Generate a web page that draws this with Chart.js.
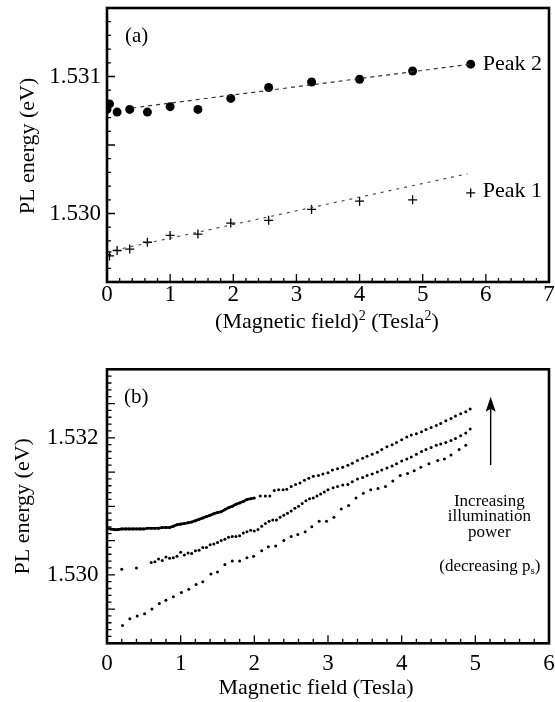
<!DOCTYPE html>
<html><head><meta charset="utf-8">
<script src="https://cdn.jsdelivr.net/npm/chart.js@4.4.0/dist/chart.umd.min.js"></script>
<style>
html,body{margin:0;padding:0;background:#fff;}
#wrap{position:relative;width:555px;height:702px;overflow:hidden;background:#fff;}
canvas{position:absolute;left:0;}
</style></head><body>
<div id="wrap">
<canvas id="ca" width="555" height="340" style="top:0px"></canvas>
<canvas id="cb" width="555" height="362" style="top:340px"></canvas>
</div>
<script>
// ---------- Panel (a) data ----------
const peak2Field2 = [0, 0.04, 0.16, 0.36, 0.64, 1.0, 1.44, 1.96, 2.56, 3.24, 4.0, 4.84, 5.76];
const peak2Energy = [1.53076, 1.53080, 1.53074, 1.53076, 1.53074, 1.53078, 1.53076, 1.53084, 1.53092, 1.53096, 1.53098, 1.53104, 1.53109];
const peak1Field2 = [0, 0.04, 0.16, 0.36, 0.64, 1.0, 1.44, 1.96, 2.56, 3.24, 4.0, 4.84, 5.76];
const peak1Energy = [1.52972, 1.52969, 1.52973, 1.52974, 1.52979, 1.52984, 1.52985, 1.52993, 1.52995, 1.53003, 1.53009, 1.53010, 1.53015];
const peak2FitField2 = [0.4, 5.76];
const peak2FitEnergy = [1.53077, 1.53109];
const peak1FitField2 = [0, 5.71];
const peak1FitEnergy = [1.52972, 1.53029];
const xTicksA = [0, 1, 2, 3, 4, 5, 6, 7];
const yTicksA = [1.530, 1.531];

// ---------- Panel (b) data ----------
const topField = [0,0.05,0.1,0.15,0.2,0.25,0.3,0.35,0.4,0.45,
  0.5,0.55,0.6,0.65,0.7,0.75,0.8,0.85,0.9,0.95,
  1.0,1.05,1.1,1.15,1.2,1.25,1.3,1.35,1.4,1.45,
  1.5,1.55,1.6,1.65,1.7,1.75,1.8,1.85,1.9,1.95,
  2.0,
  2.08,2.15,2.21,2.27,2.33,2.39,2.44,2.5,2.56,2.62,
  2.68,2.74,2.8,2.87,2.93,3.0,3.06,3.13,3.2,3.27,
  3.33,3.4,3.47,3.53,3.6,3.67,3.73,3.8,3.87,3.93,
  4.0,4.07,4.13,4.2,4.27,4.33,4.4,4.47,4.53,4.6,
  4.67,4.73,4.8,4.87,4.93];
const topEnergy = [1.53068,1.53067,1.53066,1.53066,1.53067,1.53067,1.53067,1.53067,1.53067,1.53067,
  1.53067,1.53068,1.53068,1.53068,1.53068,1.53069,1.53069,1.53069,1.53071,1.53073,
  1.53074,1.53075,1.53076,1.53077,1.53079,1.53081,1.53083,1.53085,1.53087,1.53089,
  1.53091,1.53092,1.53095,1.53098,1.53100,1.53103,1.53105,1.53107,1.53110,1.53111,
  1.53112,
  1.53115,1.53115,1.53115,1.53123,1.53124,1.53124,1.53125,1.53129,1.53132,1.53134,
  1.53138,1.53141,1.53144,1.53145,1.53147,1.53149,1.53153,1.53155,1.53157,1.53160,
  1.53163,1.53167,1.53170,1.53173,1.53176,1.53179,1.53183,1.53187,1.53190,1.53193,
  1.53197,1.53201,1.53204,1.53206,1.53209,1.53212,1.53215,1.53218,1.53221,1.53225,
  1.53228,1.53232,1.53235,1.53238,1.53242];
const midField = [0.2,0.4,0.6,0.65,0.7,0.75,0.8,0.85,0.9,0.95,
  1.0,1.05,1.1,1.15,1.2,1.25,1.3,1.35,1.4,1.45,
  1.5,1.55,1.6,1.65,1.7,1.75,1.8,1.85,1.9,1.95,
  2.0,2.05,2.1,2.15,2.2,2.25,2.3,2.35,2.4,2.45,
  2.5,2.55,2.6,2.65,2.7,2.75,2.8,2.85,2.9,2.95,
  3.0,3.07,3.13,3.2,3.27,3.33,3.4,3.47,3.53,3.6,
  3.67,3.73,3.8,3.87,3.93,4.0,4.07,4.13,4.2,4.27,
  4.33,4.4,4.47,4.53,4.6,4.67,4.73,4.8,4.87,4.93];
const midEnergy = [1.53008,1.53010,1.53018,1.53019,1.53023,1.53021,1.53026,1.53024,1.53025,1.53027,
  1.53033,1.53029,1.53032,1.53031,1.53035,1.53036,1.53040,1.53040,1.53044,1.53045,
  1.53047,1.53050,1.53052,1.53055,1.53056,1.53056,1.53057,1.53061,1.53063,1.53065,
  1.53064,1.53066,1.53071,1.53075,1.53078,1.53080,1.53080,1.53084,1.53087,1.53090,
  1.53093,1.53097,1.53100,1.53104,1.53108,1.53111,1.53112,1.53115,1.53118,1.53121,
  1.53124,1.53127,1.53129,1.53131,1.53132,1.53136,1.53140,1.53142,1.53145,1.53147,
  1.53150,1.53153,1.53156,1.53159,1.53162,1.53166,1.53169,1.53172,1.53176,1.53180,
  1.53183,1.53186,1.53189,1.53191,1.53193,1.53196,1.53199,1.53203,1.53207,1.53213];
const botField = [0.21,0.31,0.41,0.51,0.61,0.71,0.8,0.9,1.01,1.11,
  1.21,1.3,1.41,1.5,1.6,1.7,1.8,1.9,1.99,2.1,
  2.19,2.29,2.4,2.5,2.59,2.69,2.78,2.88,2.98,3.08,
  3.18,3.28,3.38,3.48,3.58,3.68,3.78,3.88,3.98,4.08,
  4.17,4.26,4.37,4.49,4.58,4.67,4.78,4.87];
const botEnergy = [1.52926,1.52936,1.52940,1.52943,1.52950,1.52958,1.52963,1.52968,1.52974,1.52979,
  1.52986,1.52990,1.53001,1.53004,1.53015,1.53020,1.53020,1.53025,1.53027,1.53035,
  1.53041,1.53042,1.53050,1.53056,1.53059,1.53063,1.53070,1.53078,1.53078,1.53084,
  1.53096,1.53101,1.53112,1.53119,1.53124,1.53126,1.53129,1.53137,1.53145,1.53148,
  1.53152,1.53157,1.53162,1.53167,1.53169,1.53175,1.53183,1.53189];
const xTicksB = [0, 1, 2, 3, 4, 5, 6];
const yTicksB = [1.530, 1.532];

// ---------- helpers ----------
const FONT = "'Liberation Serif', 'Times New Roman', serif";
Chart.defaults.font.family = FONT;
Chart.defaults.font.size = 23;
Chart.defaults.color = '#000';

const pts = (xs, ys) => xs.map((x, i) => ({x: x, y: ys[i]}));

function isMult(v, step) { const r = v / step; return Math.abs(r - Math.round(r)) < 1e-6; }

function framePlugin(cfg) {
  return {
    id: 'frame',
    afterDatasetsDraw(chart) {
      const {ctx, chartArea: a, scales: {x, y}} = chart;
      ctx.save();
      ctx.strokeStyle = '#000';
      ctx.lineWidth = 1.3;
      ctx.beginPath();
      for (let i = 0; ; i++) {
        const v = x.min + i * cfg.xMinor;
        if (v > x.max + 1e-9) break;
        const px = x.getPixelForValue(v);
        const len = isMult(v, cfg.xMajor) ? cfg.majLen : cfg.minLen;
        ctx.moveTo(px, a.bottom); ctx.lineTo(px, a.bottom - len);
      }
      for (let i = 0; ; i++) {
        const v = y.min + i * cfg.yMinor;
        if (v > y.max + 1e-12) break;
        const py = y.getPixelForValue(v);
        const len = isMult(v, cfg.yMid) ? cfg.majLen : cfg.minLen;
        ctx.moveTo(a.left, py); ctx.lineTo(a.left + len, py);
      }
      ctx.stroke();
      ctx.lineWidth = 2.6;
      ctx.strokeRect(a.left, a.top, a.right - a.left, a.bottom - a.top);
      ctx.restore();
    }
  };
}

function textWithSup(ctx, parts, cx, baseY, size) {
  let total = 0;
  const widths = parts.map(p => {
    ctx.font = (p[1] ? Math.round(size * 0.62) : size) + 'px ' + FONT;
    const w = ctx.measureText(p[0]).width; total += w; return w;
  });
  let x = cx - total / 2;
  ctx.textAlign = 'left';
  parts.forEach((p, i) => {
    ctx.font = (p[1] ? Math.round(size * 0.62) : size) + 'px ' + FONT;
    ctx.fillText(p[0], x, baseY + (p[1] === 'sup' ? -size * 0.38 : p[1] === 'sub' ? size * 0.22 : 0));
    x += widths[i];
  });
}

function fixScaleSizes(w, h) {
  return {
    y: (s) => { s.width = w; s.paddingTop = 0; s.paddingBottom = 0; },
    x: (s) => { s.height = h; s.paddingLeft = 0; s.paddingRight = 0; }
  };
}

// ---------- Chart (a) ----------
const fa = fixScaleSizes(107, 58);
new Chart(document.getElementById('ca'), {
  type: 'scatter',
  data: {
    datasets: [
      { type: 'line', data: pts(peak2FitField2, peak2FitEnergy), borderColor: '#333', borderWidth: 1.2, borderDash: [4, 4], pointRadius: 0, fill: false },
      { type: 'line', data: pts(peak1FitField2, peak1FitEnergy), borderColor: '#444', borderWidth: 1.1, borderDash: [3, 5], pointRadius: 0, fill: false },
      { data: pts(peak2Field2, peak2Energy), pointStyle: 'circle', pointRadius: 4.5, backgroundColor: '#000', borderColor: '#000', borderWidth: 0 },
      { data: pts(peak1Field2, peak1Energy), pointStyle: 'cross', pointRadius: 4.5, borderColor: '#000', borderWidth: 1.3 }
    ]
  },
  options: {
    responsive: false, animation: false, devicePixelRatio: 1,
    layout: { padding: { top: 8, right: 6, left: 0, bottom: 0 } },
    plugins: { legend: { display: false }, tooltip: { enabled: false } },
    scales: {
      x: { type: 'linear', min: 0, max: 7,
        grid: { display: false, drawTicks: false }, border: { display: false },
        afterBuildTicks: s => { s.ticks = xTicksA.map(v => ({value: v})); },
        ticks: { padding: -1, callback: v => String(v), autoSkip: false, maxRotation: 0 },
        afterFit: fa.x },
      y: { type: 'linear', min: 1.5295, max: 1.5315,
        grid: { display: false, drawTicks: false }, border: { display: false },
        afterBuildTicks: s => { s.ticks = yTicksA.map(v => ({value: v})); },
        ticks: { padding: 6, callback: v => v.toFixed(3), autoSkip: false },
        afterFit: fa.y }
    }
  },
  plugins: [framePlugin({ xMinor: 0.2, xMajor: 1, yMinor: 0.0001, yMid: 0.0005, majLen: 8, minLen: 4 }), {
    id: 'annA',
    afterDraw(chart) {
      const {ctx, scales: {x, y}} = chart;
      ctx.save();
      ctx.fillStyle = '#000';
      ctx.textBaseline = 'alphabetic';
      ctx.textAlign = 'left';
      ctx.font = '22px ' + FONT;
      ctx.fillText('Peak 2', x.getPixelForValue(5.95), y.getPixelForValue(1.53105));
      ctx.fillText('Peak 1', x.getPixelForValue(5.95), y.getPixelForValue(1.530123));
      ctx.font = '21px ' + FONT;
      ctx.fillText('(a)', x.getPixelForValue(0.285), y.getPixelForValue(1.531254));
      textWithSup(ctx, [['(Magnetic field)', false], ['2', 'sup'], [' (Tesla', false], ['2', 'sup'], [')', false]], 327, 328, 22);
      ctx.translate(28, 146);
      ctx.rotate(-Math.PI / 2);
      ctx.textAlign = 'center'; ctx.textBaseline = 'middle';
      ctx.font = '22px ' + FONT;
      ctx.fillText('PL energy (eV)', 0, 0);
      ctx.restore();
    }
  }]
});

// ---------- Chart (b) ----------
const fb = fixScaleSizes(107, 58.7);
new Chart(document.getElementById('cb'), {
  type: 'scatter',
  data: {
    datasets: [
      { data: pts(topField, topEnergy), showLine: true, borderWidth: 2.6, borderColor: '#000', backgroundColor: '#000',
        pointRadius: 1.5, pointBorderWidth: 0,
        segment: { borderColor: c => (c.p1.parsed.x <= 2.001 ? '#000' : 'rgba(0,0,0,0)') } },
      { data: pts(midField, midEnergy), pointRadius: 1.5, pointBorderWidth: 0, backgroundColor: '#000', borderColor: '#000' },
      { data: pts(botField, botEnergy), pointRadius: 1.5, pointBorderWidth: 0, backgroundColor: '#000', borderColor: '#000' }
    ]
  },
  options: {
    responsive: false, animation: false, devicePixelRatio: 1,
    layout: { padding: { top: 29.3, right: 6, left: 0, bottom: 0 } },
    plugins: { legend: { display: false }, tooltip: { enabled: false } },
    scales: {
      x: { type: 'linear', min: 0, max: 6,
        grid: { display: false, drawTicks: false }, border: { display: false },
        afterBuildTicks: s => { s.ticks = xTicksB.map(v => ({value: v})); },
        ticks: { padding: 6.5, callback: v => String(v), autoSkip: false, maxRotation: 0 },
        afterFit: fb.x },
      y: { type: 'linear', min: 1.529, max: 1.533,
        grid: { display: false, drawTicks: false }, border: { display: false },
        afterBuildTicks: s => { s.ticks = yTicksB.map(v => ({value: v})); },
        ticks: { padding: 8.5, callback: v => v.toFixed(3), autoSkip: false },
        afterFit: fb.y }
    }
  },
  plugins: [framePlugin({ xMinor: 0.2, xMajor: 1, yMinor: 0.0001, yMid: 0.0005, majLen: 8, minLen: 4.5 }), {
    id: 'annB',
    afterDraw(chart) {
      const {ctx, scales: {x, y}} = chart;
      ctx.save();
      ctx.fillStyle = '#000';
      ctx.strokeStyle = '#000';
      ctx.textBaseline = 'alphabetic';
      ctx.textAlign = 'left';
      ctx.font = '21px ' + FONT;
      ctx.fillText('(b)', x.getPixelForValue(0.23), y.getPixelForValue(1.532504));
      const ax = x.getPixelForValue(5.208);
      const tipY = y.getPixelForValue(1.5326);
      const botY = y.getPixelForValue(1.531603);
      ctx.lineWidth = 1.4;
      ctx.beginPath(); ctx.moveTo(ax, botY); ctx.lineTo(ax, tipY + 10); ctx.stroke();
      ctx.beginPath(); ctx.moveTo(ax, tipY); ctx.lineTo(ax - 5, tipY + 15); ctx.lineTo(ax, tipY + 12); ctx.lineTo(ax + 5, tipY + 15); ctx.closePath(); ctx.fill();
      ctx.textAlign = 'center';
      ctx.font = '17px ' + FONT;
      const cx = x.getPixelForValue(5.19);
      ctx.fillText('Increasing', cx, y.getPixelForValue(1.531009));
      ctx.fillText('illumination', cx, y.getPixelForValue(1.530785));
      ctx.fillText('power', cx, y.getPixelForValue(1.530556));
      textWithSup(ctx, [['(decreasing p', false], ['s', 'sub'], [')', false]], cx + 0.5, y.getPixelForValue(1.530060), 17);
      textWithSup(ctx, [['Magnetic field (Tesla)', false]], 316, 354, 22);
      ctx.translate(23, 166.3);
      ctx.rotate(-Math.PI / 2);
      ctx.textAlign = 'center'; ctx.textBaseline = 'middle';
      ctx.font = '22px ' + FONT;
      ctx.fillText('PL energy (eV)', 0, 0);
      ctx.restore();
    }
  }]
});
</script>
</body></html>
